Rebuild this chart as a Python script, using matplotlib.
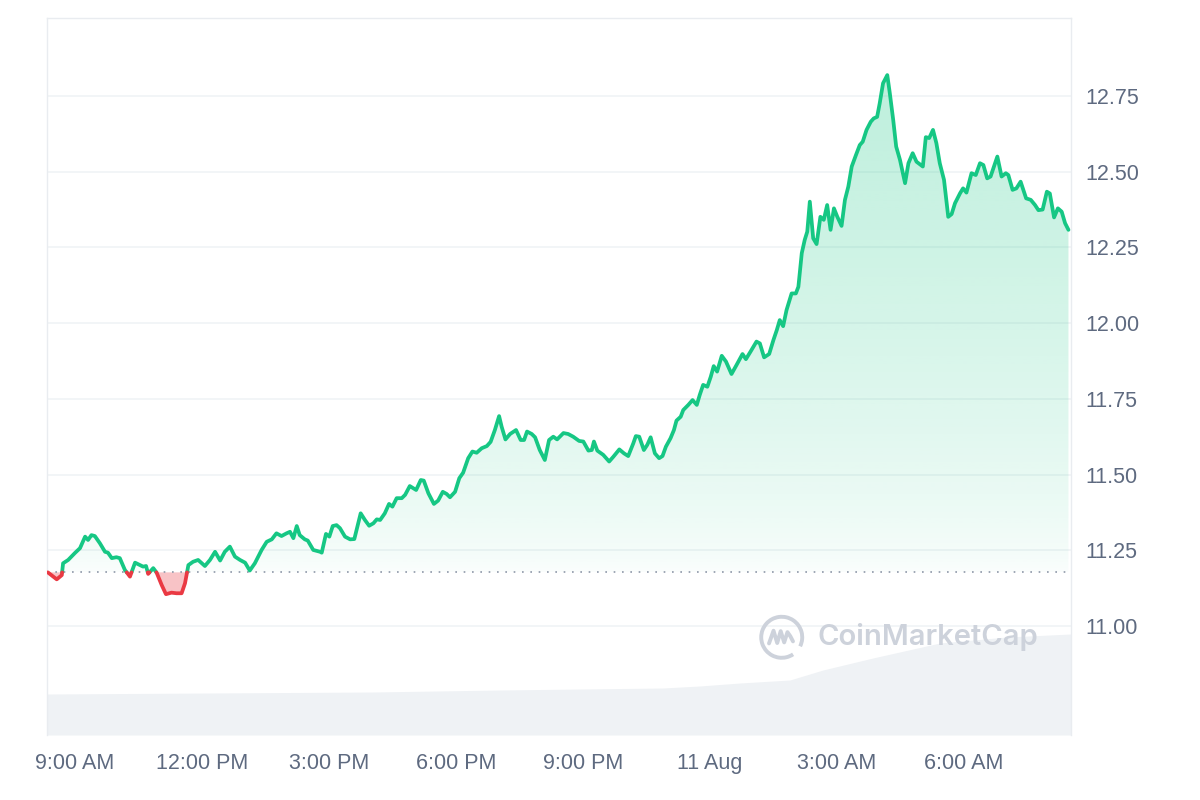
import numpy as np
import matplotlib
matplotlib.use("Agg")
import matplotlib.pyplot as plt
from matplotlib.path import Path
from matplotlib.patches import Arc
from matplotlib.colors import to_rgb

# ---------------- data (hours relative to 9:00 AM) ----------------
hours = [-0.64, -0.43, -0.31, -0.28, -0.16, 0.00, 0.12, 0.24, 0.31, 0.39,
         0.47, 0.59, 0.71, 0.78, 0.87, 0.98, 1.06, 1.18, 1.30, 1.42,
         1.54, 1.61, 1.68, 1.73, 1.85, 1.93, 2.05, 2.15, 2.28, 2.40,
         2.52, 2.60, 2.68, 2.79, 2.91, 3.07, 3.19, 3.31, 3.43, 3.54,
         3.66, 3.78, 3.90, 4.02, 4.13, 4.25, 4.41, 4.53, 4.65, 4.76,
         4.88, 5.00, 5.08, 5.16, 5.24, 5.31, 5.43, 5.50, 5.63, 5.79,
         5.83, 5.93, 6.01, 6.09, 6.18, 6.26, 6.38, 6.50, 6.60, 6.75,
         6.85, 6.95, 7.05, 7.13, 7.21, 7.32, 7.42, 7.50, 7.60, 7.72,
         7.80, 7.91, 8.06, 8.17, 8.24, 8.35, 8.48, 8.58, 8.69, 8.78,
         8.86, 8.98, 9.08, 9.17, 9.29, 9.39, 9.49, 9.61, 9.73, 9.82,
         9.92, 10.02, 10.08, 10.17, 10.28, 10.42, 10.53, 10.61, 10.68, 10.79,
         10.87, 10.98, 11.10, 11.20, 11.30, 11.39, 11.54, 11.65, 11.77, 11.91,
         12.01, 12.13, 12.21, 12.26, 12.34, 12.48, 12.62, 12.72, 12.86, 12.97,
         13.07, 13.19, 13.25, 13.33, 13.44, 13.52, 13.60, 13.70, 13.80, 13.88,
         13.96, 14.07, 14.15, 14.21, 14.31, 14.37, 14.49, 14.59, 14.69, 14.76,
         14.84, 14.94, 15.02, 15.09, 15.17, 15.28, 15.38, 15.51, 15.63, 15.77,
         15.85, 15.96, 16.10, 16.18, 16.28, 16.40, 16.50, 16.58, 16.65, 16.73,
         16.81, 16.93, 17.03, 17.09, 17.17, 17.24, 17.30, 17.36, 17.44, 17.52,
         17.61, 17.69, 17.77, 17.85, 17.93, 18.01, 18.11, 18.19, 18.27, 18.35,
         18.45, 18.54, 18.61, 18.70, 18.80, 18.87, 18.95, 19.01, 19.09, 19.19,
         19.25, 19.33, 19.40, 19.49, 19.61, 19.69, 19.79, 19.88, 20.03, 20.10,
         20.18, 20.27, 20.35, 20.43, 20.53, 20.63, 20.71, 20.79, 20.91, 20.98,
         21.06, 21.18, 21.28, 21.38, 21.46, 21.55, 21.63, 21.79, 21.89, 21.99,
         22.05, 22.15, 22.24, 22.34, 22.47, 22.58, 22.68, 22.76, 22.86, 22.96,
         23.03, 23.13, 23.22, 23.31, 23.39, 23.47]

price = [11.177, 11.154, 11.168, 11.207, 11.218, 11.241, 11.257, 11.295, 11.284, 11.300,
         11.297, 11.273, 11.245, 11.242, 11.224, 11.227, 11.224, 11.185, 11.163, 11.209,
         11.201, 11.196, 11.198, 11.172, 11.191, 11.176, 11.135, 11.105, 11.110, 11.108,
         11.108, 11.141, 11.201, 11.212, 11.218, 11.198, 11.218, 11.245, 11.216, 11.245,
         11.262, 11.229, 11.218, 11.209, 11.183, 11.207, 11.251, 11.278, 11.286, 11.306,
         11.297, 11.306, 11.311, 11.290, 11.330, 11.300, 11.286, 11.282, 11.251, 11.245,
         11.242, 11.304, 11.295, 11.330, 11.333, 11.323, 11.295, 11.286, 11.287, 11.372,
         11.350, 11.331, 11.339, 11.352, 11.350, 11.372, 11.403, 11.394, 11.422, 11.422,
         11.433, 11.462, 11.449, 11.482, 11.480, 11.438, 11.403, 11.414, 11.443, 11.436,
         11.425, 11.443, 11.488, 11.506, 11.554, 11.576, 11.572, 11.587, 11.594, 11.608,
         11.647, 11.693, 11.658, 11.616, 11.634, 11.647, 11.614, 11.614, 11.642, 11.634,
         11.623, 11.581, 11.548, 11.614, 11.625, 11.616, 11.637, 11.634, 11.625, 11.611,
         11.609, 11.579, 11.581, 11.609, 11.579, 11.565, 11.543, 11.559, 11.583, 11.570,
         11.561, 11.603, 11.627, 11.625, 11.581, 11.598, 11.623, 11.570, 11.554, 11.561,
         11.592, 11.620, 11.647, 11.678, 11.691, 11.713, 11.730, 11.746, 11.730, 11.763,
         11.796, 11.790, 11.823, 11.858, 11.840, 11.892, 11.873, 11.832, 11.862, 11.898,
         11.881, 11.906, 11.939, 11.933, 11.887, 11.898, 11.944, 11.977, 12.010, 11.990,
         12.043, 12.098, 12.098, 12.120, 12.231, 12.275, 12.302, 12.401, 12.280, 12.261,
         12.351, 12.341, 12.390, 12.308, 12.379, 12.351, 12.321, 12.407, 12.451, 12.517,
         12.555, 12.588, 12.599, 12.638, 12.665, 12.676, 12.681, 12.725, 12.792, 12.819,
         12.759, 12.671, 12.583, 12.539, 12.462, 12.528, 12.561, 12.533, 12.517, 12.614,
         12.611, 12.638, 12.594, 12.528, 12.473, 12.351, 12.360, 12.396, 12.429, 12.445,
         12.431, 12.495, 12.489, 12.528, 12.522, 12.478, 12.484, 12.550, 12.484, 12.495,
         12.489, 12.440, 12.445, 12.467, 12.412, 12.407, 12.390, 12.373, 12.375, 12.434,
         12.428, 12.349, 12.379, 12.368, 12.330, 12.308]

open_price = 11.177

vol_hours = [-0.66, 7.04, 10.04, 13.89, 14.76, 15.71, 16.89, 17.67, 18.85,
             20.43, 22.02, 23.52]
volume = [41, 43, 45, 47, 49, 52, 55, 65, 77, 92, 98, 101]   # relative volume

tick_hours = [0, 3, 6, 9, 12, 15, 18, 21]
tick_labels = ["9:00 AM", "12:00 PM", "3:00 PM", "6:00 PM", "9:00 PM",
               "11 Aug", "3:00 AM", "6:00 AM"]
price_ticks = [11.00, 11.25, 11.50, 11.75, 12.00, 12.25, 12.50, 12.75]

# ---------------- styling ----------------
GREEN = "#16c784"
RED = "#ea3943"
GRID = "#eff2f5"
LABEL = "#5e6a80"
VOL = "#eff2f5"
WM = "#cdd2db"
XMIN, XMAX = -0.66, 23.53
YMIN, YMAX = 10.640, 13.0075

plt.rcParams["font.family"] = ["Liberation Sans", "DejaVu Sans"]

fig = plt.figure(figsize=(12, 8), dpi=100)
ax2 = fig.add_axes([47/1200, 65/800, 1024/1200, 717/800])
ax = fig.add_axes([47/1200, 65/800, 1024/1200, 717/800], sharex=ax2)
ax.patch.set_visible(False)

# volume area (background axis)
ax2.fill_between(vol_hours, volume, 0, color=VOL, lw=0)
ax2.set_ylim(0, 717)
ax2.set_yticks([])
for s in ax2.spines.values():
    s.set_visible(False)
ax2.tick_params(axis="x", length=0, labelbottom=False)

# split line at crossings of the open price
t = np.array(hours, dtype=float)
p = np.array(price, dtype=float)
tt, pp = [t[0]], [p[0]]
for i in range(1, len(t)):
    a, b = p[i-1] - open_price, p[i] - open_price
    if a * b < 0:
        tc = t[i-1] + (t[i] - t[i-1]) * a / (a - b)
        tt.append(tc)
        pp.append(open_price)
    tt.append(t[i])
    pp.append(p[i])
tt = np.array(tt)
pp = np.array(pp)

# gradient green fill
poly = ax.fill_between(tt, pp, open_price, where=pp >= open_price,
                       facecolor="none", edgecolor="none")
cpath = Path.make_compound_path(*poly.get_paths())
n = 256
frac = np.linspace(0, 1, n)[:, None]
alpha = 0.02 + 0.28 * frac ** 0.7
rgba = np.zeros((n, 1, 4))
rgba[..., :3] = to_rgb(GREEN)
rgba[..., 3] = alpha
im = ax.imshow(rgba, extent=[XMIN, XMAX, open_price, YMAX], origin="lower",
               aspect="auto", zorder=1, interpolation="bilinear")
im.set_clip_path(cpath, transform=ax.transData)

# red fill
ax.fill_between(tt, pp, open_price, where=pp <= open_price,
                color=RED, alpha=0.3, lw=0, zorder=1)

# lines
up = np.ma.masked_where(pp < open_price, pp)
dn = np.ma.masked_where(pp > open_price, pp)
ax.plot(tt, up, color=GREEN, lw=2.7, zorder=3, solid_joinstyle="round",
        solid_capstyle="round")
ax.plot(tt, dn, color=RED, lw=2.7, zorder=3, solid_joinstyle="round",
        solid_capstyle="round")

# open-price dotted line
ax.axhline(open_price, color="#8e97a8", lw=1.2, ls=(0, (1, 4)), zorder=2)

# axes
ax.set_xlim(XMIN, XMAX)
ax.set_ylim(YMIN, YMAX)
ax.set_yticks(price_ticks)
ax.set_yticklabels([f"{v:.2f}" for v in price_ticks])
ax.yaxis.tick_right()
ax.set_xticks(tick_hours)
ax.set_xticklabels(tick_labels)
ax.tick_params(axis="both", length=0, labelsize=15.5, labelcolor=LABEL)
ax.tick_params(axis="y", pad=10)
ax.tick_params(axis="x", pad=13)
ax.grid(axis="y", color=GRID, lw=1.1, zorder=0)
ax.set_axisbelow(True)
for name, s in ax.spines.items():
    s.set_color("#e9ecf0")
    s.set_linewidth(1.0)
ax.spines["bottom"].set_visible(False)

# watermark
aw, ah = 1024.0, 717.0
cx, cy, r = 0.7175, 0.1363, 20.5
ax.add_patch(Arc((cx, cy), 2*r/aw, 2*r/ah, theta1=-35, theta2=295,
                 transform=ax.transAxes, color=WM, lw=2.8, zorder=2))
mx = np.array([-0.62, -0.40, -0.22, -0.05, 0.12, 0.28, 0.42, 0.55])
my = np.array([-0.30, 0.32, -0.28, 0.30, -0.25, 0.25, 0.05, -0.20])
ax.plot(cx + mx*r/aw, cy + my*r/ah, transform=ax.transAxes, color=WM,
        lw=2.8, zorder=2, solid_capstyle="round", solid_joinstyle="round")
ax.text(0.752, cy, "CoinMarketCap", transform=ax.transAxes, ha="left",
        va="center", fontsize=21, color=WM, family=["Inter", "DejaVu Sans"],
        fontweight="semibold", zorder=2)

fig.savefig("out.png", dpi=100, facecolor="white")
